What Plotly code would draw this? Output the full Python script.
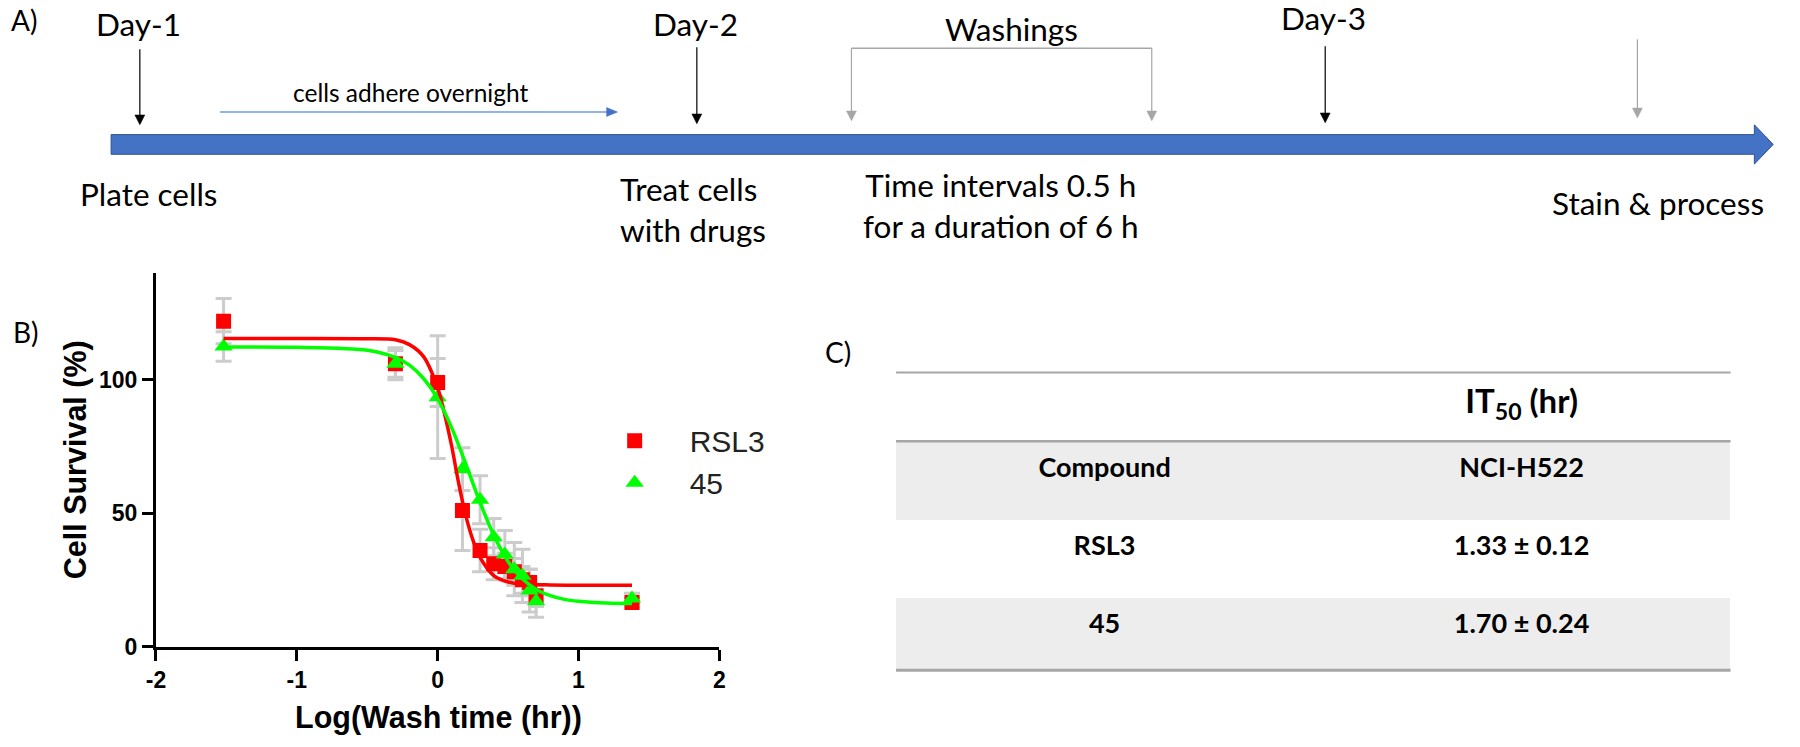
import plotly.graph_objects as go

W, H = 1800, 747
def X(px): return px / W
def Y(py): return 1 - py / H

#######################################################################################
# B) 數據
log_time = [-1.52, -0.30, 0.0, 0.176, 0.301, 0.398, 0.477, 0.544, 0.602, 0.653, 0.699, 1.38]
rsl3_surv = [122, 106, 99, 51, 36, 31, 30, 28, 25, 24, 19, 16.5]
rsl3_err = [8.5, 5, 9, 15, 8, 6, 5, 5, 5, 5, 4, 2]
c45_surv = [112.5, 106, 93.5, 66.5, 55, 41, 34.5, 29, 26.5, 21, 17, 18]
c45_err = [5.5, 6, 23, 8, 9, 7, 9, 10, 10, 8, 6, 2]

# fitted curves
rsl3_fit_x = [-1.52, -1.0, -0.5, -0.3, -0.2, -0.1, 0.0, 0.05, 0.1, 0.15, 0.2, 0.25, 0.3, 0.4, 0.5, 0.6, 0.8, 1.0, 1.38]
rsl3_fit_y = [115.5, 115.5, 115.4, 115.0, 113.2, 108.7, 97, 87, 75, 61, 49, 40, 33.5, 26.5, 24.2, 23.4, 23.1, 23, 23]
c45_fit_x = [-1.52, -1.0, -0.5, -0.3, -0.2, -0.1, 0.0, 0.1, 0.2, 0.3, 0.4, 0.5, 0.6, 0.7, 0.8, 0.9, 1.0, 1.2, 1.38]
c45_fit_y = [112.3, 112.2, 111.1, 108.4, 105.5, 100.5, 93, 82, 68.4, 54.2, 41.5, 31.9, 25.5, 21.4, 19.1, 17.7, 17, 16.3, 16.1]

x_ticks = [-2, -1, 0, 1, 2]
x_tick_text = ['-2', '-1', '0', '1', '2']
y_ticks = [0, 50, 100]

# C) 表格
tbl_header = ['', 'IT<sub>50</sub> (hr)']
tbl_compound = ['Compound', 'RSL3', '45']
tbl_value = ['NCI-H522', '1.33 ± 0.12', '1.70 ± 0.24']
#######################################################################################

ARIAL = 'Liberation Sans, Arial'
CAL = 'Lato'
GREY_ERR = '#CCCCCC'
PAD = '\u00a0\u00a0\u00a0'  # 圖例符號與文字之間的距離

fig = go.Figure()

# error bars (behind everything)
fig.add_trace(go.Scatter(x=log_time, y=rsl3_surv, mode='markers', showlegend=False,
                         marker=dict(size=2, color='rgba(0,0,0,0)'),
                         error_y=dict(type='data', array=rsl3_err, color=GREY_ERR, thickness=3, width=8)))
fig.add_trace(go.Scatter(x=log_time, y=c45_surv, mode='markers', showlegend=False,
                         marker=dict(size=2, color='rgba(0,0,0,0)'),
                         error_y=dict(type='data', array=c45_err, color=GREY_ERR, thickness=3, width=8)))
# markers
fig.add_trace(go.Scatter(x=log_time, y=rsl3_surv, mode='markers', name=PAD + 'RSL3',
                         marker=dict(symbol='square', size=15, color='#FF0000')))
fig.add_trace(go.Scatter(x=log_time, y=c45_surv, mode='markers', name=PAD + '45',
                         marker=dict(symbol='triangle-up', size=16, color='#00FF00')))
# curves
fig.add_trace(go.Scatter(x=rsl3_fit_x, y=rsl3_fit_y, mode='lines', showlegend=False,
                         line=dict(color='#FF0000', width=3.5, shape='spline', smoothing=0.8)))
fig.add_trace(go.Scatter(x=c45_fit_x, y=c45_fit_y, mode='lines', showlegend=False,
                         line=dict(color='#00FF00', width=3.5, shape='spline', smoothing=0.8)))

# C) table
row_fill = ['#EDEDED', 'white', '#EDEDED']
fig.add_trace(go.Table(domain=dict(x=[X(894), X(1736)], y=[Y(682), Y(379)]),
                       columnwidth=[1, 1],
                       header=dict(values=['<b>%s</b>' % v if v else ' ' for v in tbl_header],
                                   fill_color='white', line=dict(width=0, color='white'), height=70,
                                   align='center', font=dict(family=CAL, size=33, color='black')),
                       cells=dict(values=[['<b>%s</b>' % v for v in tbl_compound],
                                          ['<b>%s</b>' % v for v in tbl_value]],
                                  fill_color=[row_fill, row_fill], line=dict(width=0, color='white'),
                                  height=77.6, align='center',
                                  font=dict(family=CAL, size=27, color='black'))))

fig.update_xaxes(domain=[X(147.3), X(715.7)], range=[-2, 2], tickvals=x_ticks, ticktext=x_tick_text,
                 showline=True, linecolor='black', linewidth=3, ticks='outside', ticklen=11,
                 tickwidth=3, tickcolor='black', showgrid=False, zeroline=False,
                 tickfont=dict(family=ARIAL, size=23, color='black', weight='bold'))
fig.update_yaxes(domain=[Y(658), Y(278)], range=[0, 140], tickvals=y_ticks,
                 showline=True, linecolor='black', linewidth=3, ticks='outside', ticklen=11,
                 tickwidth=3, tickcolor='black', showgrid=False, zeroline=False,
                 tickfont=dict(family=ARIAL, size=23, color='black', weight='bold'))

#######################################################################################
# A) timeline shapes
shapes = []
BLUE = '#4472C4'
shapes.append(dict(type='path', xref='paper', yref='paper',
                   path='M %f %f L %f %f L %f %f L %f %f L %f %f L %f %f L %f %f Z' % (
                       X(102), Y(137), X(1760), Y(137), X(1760), Y(127), X(1779), Y(147),
                       X(1760), Y(167), X(1760), Y(157), X(102), Y(157)),
                   fillcolor=BLUE, line=dict(color='#2F528F', width=1)))

def down_arrow(px, top, tip, color):
    shapes.append(dict(type='line', xref='paper', yref='paper', x0=X(px), x1=X(px),
                       y0=Y(top), y1=Y(tip - 8), line=dict(color=color, width=1.2)))
    shapes.append(dict(type='path', xref='paper', yref='paper',
                       path='M %f %f L %f %f L %f %f Z' % (X(px - 5), Y(tip - 10), X(px + 5), Y(tip - 10), X(px), Y(tip)),
                       fillcolor=color, line=dict(color=color, width=0.5)))

down_arrow(131, 50, 127, 'black')
down_arrow(693, 48, 126, 'black')
down_arrow(1327, 47, 125, 'black')
down_arrow(849, 49, 123, '#A6A6A6')
down_arrow(1152, 49, 123, '#A6A6A6')
down_arrow(1642, 40, 120, '#A6A6A6')
shapes.append(dict(type='line', xref='paper', yref='paper', x0=X(849), x1=X(1152),
                   y0=Y(49), y1=Y(49), line=dict(color='#A6A6A6', width=1.5)))
# cells adhere overnight arrow
shapes.append(dict(type='line', xref='paper', yref='paper', x0=X(212), x1=X(604),
                   y0=Y(114), y1=Y(114), line=dict(color='#6E9BD8', width=1.5)))
shapes.append(dict(type='path', xref='paper', yref='paper',
                   path='M %f %f L %f %f L %f %f Z' % (X(602), Y(109.5), X(602), Y(118.5), X(613), Y(114)),
                   fillcolor='#4472C4', line=dict(color='#4472C4', width=0.5)))

# C) table rules
for yy, ww in [(379, 2), (449, 2.5), (682, 3)]:
    shapes.append(dict(type='line', xref='paper', yref='paper', x0=X(894), x1=X(1736),
                       y0=Y(yy), y1=Y(yy), line=dict(color='#A6A6A6', width=ww)))

annos = []
def txt(s, px, py, size=31.5, xanchor='center', align='center', family=CAL, color='black', angle=0, weight='normal'):
    annos.append(dict(text=s, x=X(px), y=Y(py), xref='paper', yref='paper', showarrow=False,
                      xanchor=xanchor, yanchor='middle', align=align, textangle=angle,
                      font=dict(family=family, size=size, color=color, weight=weight)))

txt('A)', 14, 20, size=28)
txt('Day-1', 130, 24)
txt('Day-2', 692, 24)
txt('Day-3', 1325, 18)
txt('Washings', 1010, 30)
txt('cells adhere overnight', 404, 94, size=24.5)
txt('Plate cells', 140, 197)
txt('Treat cells<br>with drugs', 613, 213, xanchor='left', align='left')
txt('Time intervals 0.5 h<br>for a duration of 6 h', 1000, 209)
txt('Stain & process', 1663, 207)
txt('B)', 16, 338, size=28)
txt('C)', 835, 358, size=28)
txt('Cell Survival (%)', 66, 468, size=30.5, family=ARIAL, angle=-90, weight='bold')
txt('Log(Wash time (hr))', 432, 730, size=30.5, family=ARIAL, weight='bold')

fig.update_layout(width=W, height=H, margin=dict(l=0, r=0, t=0, b=0),
                  paper_bgcolor='white', plot_bgcolor='white',
                  shapes=shapes, annotations=annos,
                  legend=dict(x=X(600), y=Y(422), xanchor='left', yanchor='top',
                              font=dict(family=ARIAL, size=30, color='#222'),
                              itemwidth=50,
                              bgcolor='rgba(0,0,0,0)', tracegroupgap=0))

fig.write_html('out.html', config={'displayModeBar': False},
               post_script="document.body.style.margin='0px';")
